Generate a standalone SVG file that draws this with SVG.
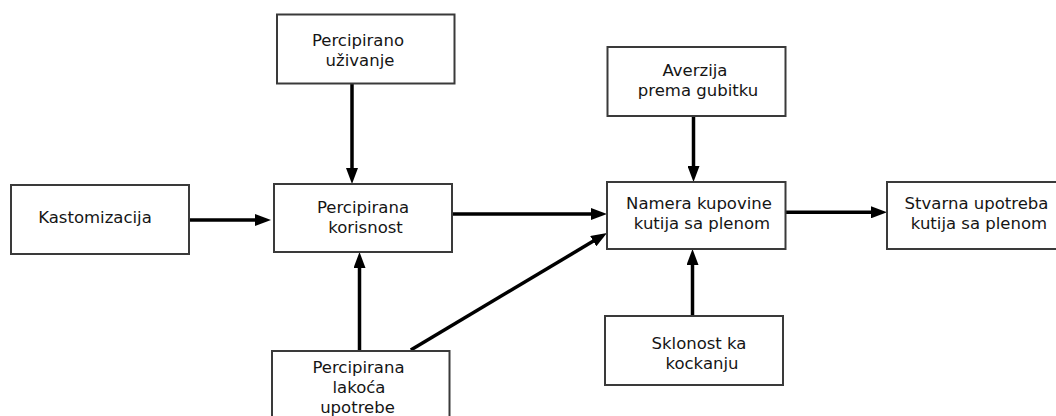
<svg xmlns="http://www.w3.org/2000/svg" width="1056" height="416" viewBox="0 0 1056 416">
<defs>
<style>
.box{fill:#fff;stroke:#3a3a3a;stroke-width:2}
.lbl{font-family:"DejaVu Sans","Liberation Sans",sans-serif;font-size:16.5px;fill:#151515;text-anchor:middle}
.edge{stroke:#000;stroke-width:3.5;fill:none;marker-end:url(#ah)}
</style>
<marker id="ah" markerUnits="userSpaceOnUse" markerWidth="16" markerHeight="12" viewBox="0 0 16 12" refX="6" refY="6" orient="auto">
<path d="M0,0 L16,6 L0,12 z" fill="#000"/>
</marker>
</defs>
<rect width="1056" height="416" fill="#fff"/>
<g id="connectors">
<line class="edge" x1="352" y1="84" x2="352" y2="174"/>
<line class="edge" x1="189" y1="220" x2="261" y2="220"/>
<line class="edge" x1="359.5" y1="351" x2="359.5" y2="262"/>
<line class="edge" x1="410.8" y1="350" x2="598.4" y2="238.1"/>
<line class="edge" x1="452" y1="214" x2="597" y2="214"/>
<line class="edge" x1="693.5" y1="116" x2="693.5" y2="172"/>
<line class="edge" x1="692.5" y1="316" x2="692.5" y2="259"/>
<line class="edge" x1="785.5" y1="212.3" x2="877" y2="212.3"/>
</g>
<g id="n-uzivanje">
<rect class="box" x="277" y="14.5" width="177.5" height="69"/>
<text class="lbl" x="358" y="46">Percipirano</text>
<text class="lbl" x="360" y="66">uživanje</text>
</g>
<g id="n-kastomizacija">
<rect class="box" x="11" y="185" width="178" height="69"/>
<text class="lbl" x="95" y="222.5">Kastomizacija</text>
</g>
<g id="n-korisnost">
<rect class="box" x="274" y="184" width="178" height="68"/>
<text class="lbl" x="363" y="212.5">Percipirana</text>
<text class="lbl" x="365.5" y="232.5">korisnost</text>
</g>
<g id="n-lakoca">
<rect class="box" x="272" y="351" width="177.5" height="80"/>
<text class="lbl" x="358.5" y="373">Percipirana</text>
<text class="lbl" x="359" y="393">lakoća</text>
<text class="lbl" x="357.5" y="413">upotrebe</text>
</g>
<g id="n-averzija">
<rect class="box" x="607.5" y="47" width="178" height="69"/>
<text class="lbl" x="695" y="76">Averzija</text>
<text class="lbl" x="698" y="96">prema gubitku</text>
</g>
<g id="n-namera">
<rect class="box" x="607" y="182" width="178.5" height="67"/>
<text class="lbl" x="699" y="209">Namera kupovine</text>
<text class="lbl" x="702" y="229">kutija sa plenom</text>
</g>
<g id="n-stvarna">
<rect class="box" x="887" y="182" width="178" height="67"/>
<text class="lbl" x="976.5" y="209">Stvarna upotreba</text>
<text class="lbl" x="979" y="229">kutija sa plenom</text>
</g>
<g id="n-sklonost">
<rect class="box" x="605" y="316" width="178" height="69"/>
<text class="lbl" x="699" y="348.5">Sklonost ka</text>
<text class="lbl" x="702" y="368.5">kockanju</text>
</g>
</svg>
